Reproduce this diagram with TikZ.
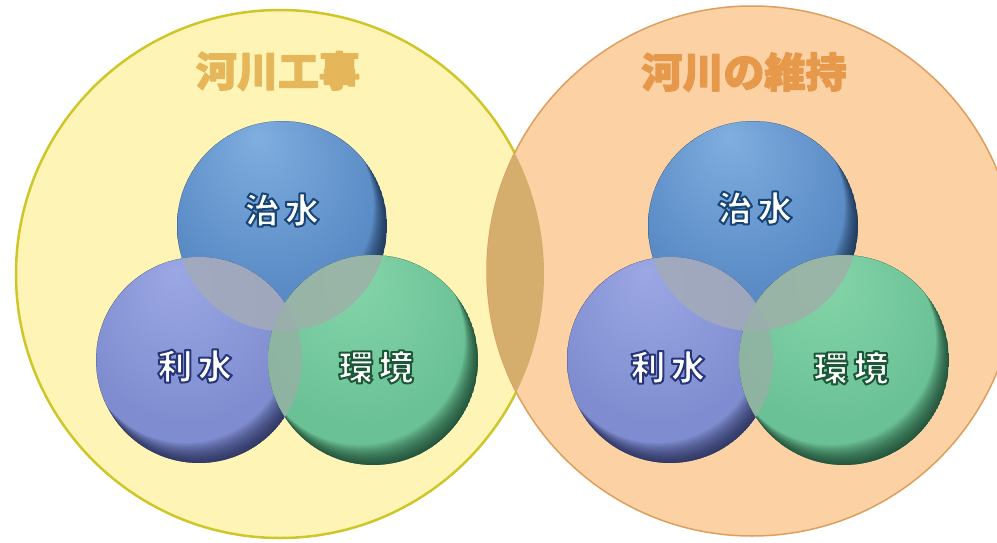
\documentclass[tikz,border=0pt]{standalone}
\usepackage{fontspec}
\usetikzlibrary{calc}
\IfFontExistsTF{Noto Sans CJK JP Black}%
  {\newfontfamily\jp{Noto Sans CJK JP}[BoldFont={Noto Sans CJK JP Black}]}%
  {\IfFontExistsTF{Noto Sans CJK JP Bold}%
    {\newfontfamily\jp{Noto Sans CJK JP}[BoldFont={Noto Sans CJK JP Bold}]}%
    {\newfontfamily\jp{Noto Sans CJK JP}}}
\definecolor{yfill}{HTML}{FEF4B6}
\definecolor{yedge}{HTML}{CFC62A}
\definecolor{ofill}{HTML}{FCD2A5}
\definecolor{oedge}{HTML}{DE9E5E}
\definecolor{lensc}{HTML}{D5AD6C}
\definecolor{bL}{HTML}{80AEE0}\definecolor{bM}{HTML}{5A8BC5}\definecolor{bK}{HTML}{0E1E33}
\definecolor{pL}{HTML}{9CA8E4}\definecolor{pM}{HTML}{7F8DD0}\definecolor{pK}{HTML}{14183A}
\definecolor{gL}{HTML}{86D6AA}\definecolor{gM}{HTML}{6BC196}\definecolor{gK}{HTML}{0C2A1A}
\definecolor{ovAB}{HTML}{A2AABB}
\definecolor{ovAC}{HTML}{9CB2A7}
\definecolor{ovBC}{HTML}{92B3A3}
\definecolor{ovABC}{HTML}{9AAEAC}
\definecolor{ttlY}{HTML}{E6B65A}
\definecolor{ttlO}{HTML}{E6994A}
\pgfdeclareradialshading{bshade}{\pgfpoint{-6bp}{22bp}}{color(0bp)=(bL); color(26bp)=(bM); color(50bp)=(bM)}
\pgfdeclareradialshading{pshade}{\pgfpoint{-6bp}{22bp}}{color(0bp)=(pL); color(26bp)=(pM); color(50bp)=(pM)}
\pgfdeclareradialshading{gshade}{\pgfpoint{-6bp}{22bp}}{color(0bp)=(gL); color(26bp)=(gM); color(50bp)=(gM)}
% text filled in the node colour and stroked in the given rgb colour
\newcommand{\strk}[3]{\special{pdf:literal direct q #1 RG 2 Tr #2 w 1 j}#3\special{pdf:literal direct Q}}
\newcommand{\btn}[4]{%
  \shade[shading=#3] (#1) circle[radius=#2];
  \begin{scope}
    \clip (#1) circle[radius=#2];
    \foreach \d in {1,...,24}{
      \fill[#4, opacity=0.045, even odd rule] (#1) circle[radius=#2] ($(#1)+(-0.55*\d,-0.84*\d)$) circle[radius=#2];
    }
  \end{scope}}
\tikzset{
  lbl/.style={inner sep=0pt, text=white, font=\jp\bfseries\fontsize{35}{35}\selectfont},
  ttl/.style={inner sep=0pt, font=\jp\bfseries\fontsize{41}{41}\selectfont},
  ovl/.style={fill opacity=0.9}
}
\begin{document}
\begin{tikzpicture}[x=1pt,y=-1pt]
\useasboundingbox (0,0) rectangle (997,543);
\clip (0,0) rectangle (997,543);
\fill[white] (0,0) rectangle (997,543);
\coordinate (L) at (280,274);
\coordinate (R) at (752,271);
% big circles
\fill[yfill] (L) circle[radius=264pt];
\draw[yedge, line width=2.5pt] (L) circle[radius=264pt];
\fill[ofill] (R) circle[radius=265pt];
\draw[oedge, line width=1.5pt] (R) circle[radius=265pt];
\begin{scope}
  \clip (R) circle[radius=265pt];
  \fill[lensc] (L) circle[radius=264pt];
\end{scope}
% left trio
\coordinate (A1) at (282,226);
\coordinate (B1) at (199,360);
\coordinate (C1) at (373,360);
\btn{A1}{105pt}{bshade}{bK}
\btn{B1}{103pt}{pshade}{pK}
\btn{C1}{105pt}{gshade}{gK}
\begin{scope}\clip (A1) circle[radius=105pt]; \fill[ovAB,ovl] (B1) circle[radius=103pt];\end{scope}
\begin{scope}\clip (A1) circle[radius=105pt]; \fill[ovAC,ovl] (C1) circle[radius=105pt];\end{scope}
\begin{scope}\clip (B1) circle[radius=103pt]; \fill[ovBC,ovl] (C1) circle[radius=105pt];\end{scope}
\begin{scope}\clip (A1) circle[radius=105pt]; \clip (B1) circle[radius=103pt]; \fill[ovABC] (C1) circle[radius=105pt];\end{scope}
\node[lbl] (a1) at (282,210) {\strk{0.09 0.27 0.46}{2}{治\hspace{5pt}水}};
\node[lbl] (b1) at (195,366) {\strk{0.15 0.21 0.47}{2}{利\hspace{5pt}水}};
\node[lbl] (c1) at (376,367) {\strk{0.11 0.34 0.22}{2}{環\hspace{5pt}境}};
% right trio
\coordinate (A2) at (753,226);
\coordinate (B2) at (670,360);
\coordinate (C2) at (844,360);
\btn{A2}{105pt}{bshade}{bK}
\btn{B2}{103pt}{pshade}{pK}
\btn{C2}{105pt}{gshade}{gK}
\begin{scope}\clip (A2) circle[radius=105pt]; \fill[ovAB,ovl] (B2) circle[radius=103pt];\end{scope}
\begin{scope}\clip (A2) circle[radius=105pt]; \fill[ovAC,ovl] (C2) circle[radius=105pt];\end{scope}
\begin{scope}\clip (B2) circle[radius=103pt]; \fill[ovBC,ovl] (C2) circle[radius=105pt];\end{scope}
\begin{scope}\clip (A2) circle[radius=105pt]; \clip (B2) circle[radius=103pt]; \fill[ovABC] (C2) circle[radius=105pt];\end{scope}
\node[lbl] (a2) at (755,208) {\strk{0.09 0.27 0.46}{2}{治\hspace{5pt}水}};
\node[lbl] (b2) at (668,367) {\strk{0.15 0.21 0.47}{2}{利\hspace{5pt}水}};
\node[lbl] (c2) at (851,368) {\strk{0.11 0.34 0.22}{2}{環\hspace{5pt}境}};
% titles
\node[ttl, text=ttlY] (t1) at (278,71) {\strk{0.902 0.714 0.353}{1.2}{河川工事}};
\node[ttl, text=ttlO] (t2) at (744,72) {\strk{0.902 0.6 0.29}{1.2}{河川の維持}};
\end{tikzpicture}
\end{document}
